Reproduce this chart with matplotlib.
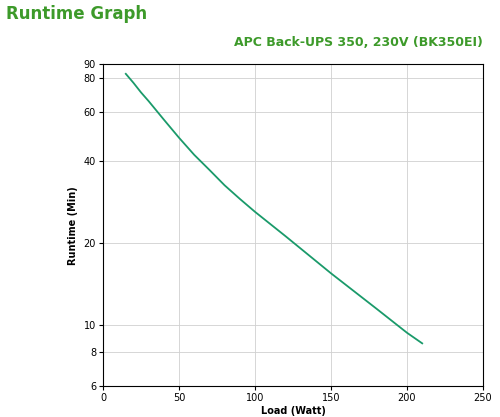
import matplotlib
matplotlib.use("Agg")
import matplotlib.pyplot as plt
from matplotlib.ticker import FixedLocator, NullLocator, FixedFormatter

load = [15, 20, 25, 30, 40, 50, 60, 70, 80, 90, 100, 120, 150, 180, 200, 210]
runtime = [83, 77, 71, 66, 56.5, 48.5, 42, 37, 32.5, 29, 26, 21.2, 15.5, 11.5, 9.4, 8.6]
yticks = [6, 8, 10, 20, 40, 60, 80, 90]
xticks = [0, 50, 100, 150, 200, 250]

fig = plt.figure(figsize=(5, 4.17), dpi=100)
ax = fig.add_axes([0.206, 0.074, 0.76, 0.772])
ax.plot(load, runtime, color="#1a9a6a", lw=1.3)
ax.set_yscale("log")
ax.set_xlim(0, 250)
ax.set_ylim(6, 90)
ax.yaxis.set_major_locator(FixedLocator(yticks))
ax.yaxis.set_major_formatter(FixedFormatter([str(t) for t in yticks]))
ax.yaxis.set_minor_locator(NullLocator())
ax.set_xticks(xticks)
ax.grid(True, color="#d0d0d0", lw=0.6)
ax.tick_params(labelsize=7, length=3, pad=2)
ax.set_xlabel("Load (Watt)", fontsize=7, fontweight="bold", labelpad=2)
ax.set_ylabel("Runtime (Min)", fontsize=7, fontweight="bold")
fig.text(0.012, 0.955, "Runtime Graph", color="#3d9a2a", fontsize=12, fontweight="bold")
fig.text(0.966, 0.89, "APC Back-UPS 350, 230V (BK350EI)", color="#3d9a2a", fontsize=9, fontweight="bold", ha="right")
fig.savefig("out.png")
